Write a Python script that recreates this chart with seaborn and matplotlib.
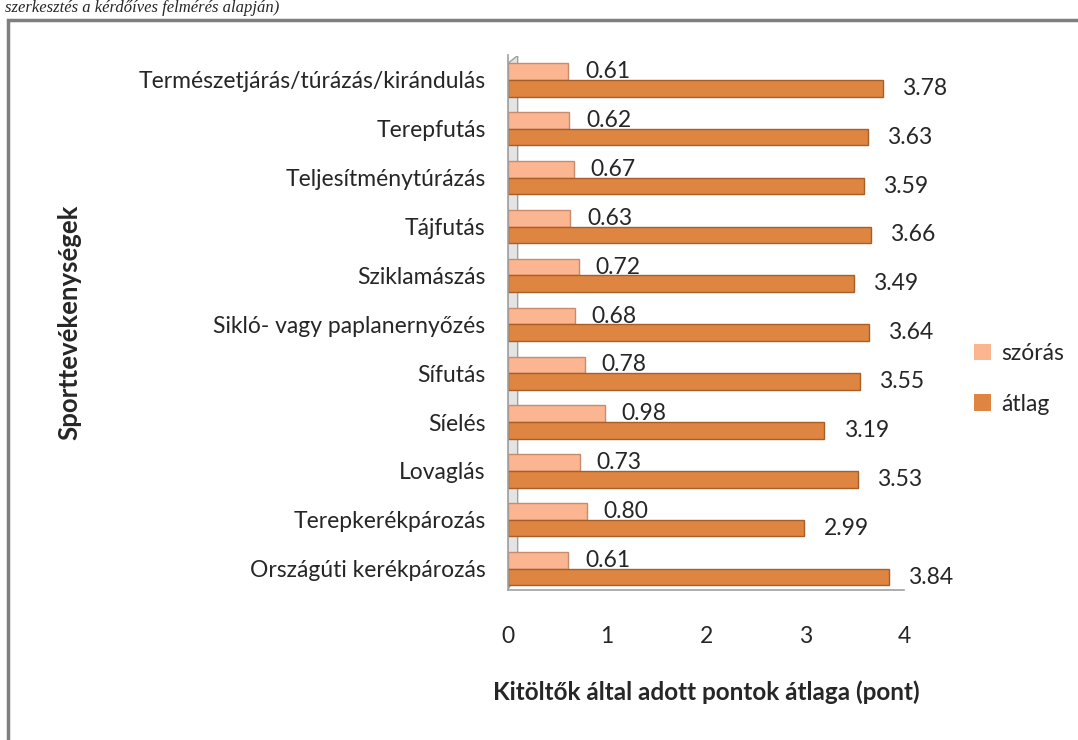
import pandas as pd
import matplotlib.pyplot as plt
import matplotlib.patches as mpatches
import seaborn as sns

# data (top to bottom)
categories = [
    "Természetjárás/túrázás/kirándulás",
    "Terepfutás",
    "Teljesítménytúrázás",
    "Tájfutás",
    "Sziklamászás",
    "Sikló- vagy paplanernyőzés",
    "Sífutás",
    "Síelés",
    "Lovaglás",
    "Terepkerékpározás",
    "Országúti kerékpározás",
]
szoras = [0.61, 0.62, 0.67, 0.63, 0.72, 0.68, 0.78, 0.98, 0.73, 0.80, 0.61]
atlag = [3.78, 3.63, 3.59, 3.66, 3.49, 3.64, 3.55, 3.19, 3.53, 2.99, 3.84]
series = ["szórás", "átlag"]
colors = ["#FBB590", "#DE8542"]
edges = ["#C98B6C", "#A95E28"]

df = pd.DataFrame({
    "sport": categories * 2,
    "value": szoras + atlag,
    "series": [series[0]] * len(categories) + [series[1]] * len(categories),
})

sns.set_style("white")
plt.rcParams["font.family"] = ["Lato", "DejaVu Sans"]
fs = 16.5

fig = plt.figure(figsize=(10.78, 7.4), dpi=100)
ax = fig.add_axes([0.471, 0.203, 0.368, 0.722])

sns.barplot(data=df, y="sport", x="value", hue="series", hue_order=series,
            order=categories, palette=colors, width=0.68, ax=ax,
            saturation=1, legend=True)

# bar edges + labels
for i, cont in enumerate(ax.containers):
    for p in cont:
        p.set_edgecolor(edges[i])
        p.set_linewidth(1.0)
    ax.bar_label(cont, fmt="%.2f", padding=12 if i == 0 else 14, fontsize=fs)

ax.set_xlim(0, 4)
ax.set_ylim(len(categories) - 0.57, -0.5)
ax.set_xticks([0, 1, 2, 3, 4])
ax.set_xticklabels(["0", "1", "2", "3", "4"], fontsize=fs)
ax.tick_params(axis="x", length=8, width=1, color="#A0A0A0", direction="inout", pad=22)
ax.tick_params(axis="y", which="major", length=0, pad=16, labelsize=fs)
ax.set_yticks([k - 0.5 for k in range(len(categories))] + [len(categories) - 0.57], minor=True)
ax.tick_params(axis="y", which="minor", length=7, width=1, color="#A0A0A0")

for s in ["top", "right"]:
    ax.spines[s].set_visible(False)
for s in ["left", "bottom"]:
    ax.spines[s].set_color("#A0A0A0")
    ax.spines[s].set_linewidth(1.2)

# 3D side wall
wall = mpatches.Polygon([(0, 0), (0.025, 0.03), (0.025, 1.0), (0.0, 0.985)],
                        closed=True, transform=ax.transAxes,
                        facecolor="#E4E4E4", edgecolor="#A0A0A0", lw=1, zorder=0.5)
ax.add_patch(wall)

ax.set_ylabel("Sporttevékenységek", fontsize=18.5, fontweight="bold")
ax.yaxis.set_label_coords(-1.075, 0.5)
ax.set_xlabel("Kitöltők által adott pontok átlaga (pont)", fontsize=17.5, fontweight="bold", labelpad=24)

leg = ax.legend(loc="center left", bbox_to_anchor=(0.884, 0.488), bbox_transform=fig.transFigure,
                frameon=False, fontsize=fs, labelspacing=1.3, handlelength=0.75,
                handleheight=0.75, handletextpad=0.45)
for h in leg.legend_handles:
    h.set_edgecolor("none")

# frame and caption at the top
fig.patches.append(mpatches.Rectangle((8 / 1078, -0.05), 1.1, 1 - 20 / 740 + 0.05,
                                      transform=fig.transFigure, fill=False,
                                      edgecolor="#7F7F7F", lw=2.5, clip_on=False))
fig.text(5 / 1078, 1.0, "szerkesztés a kérdőíves felmérés alapján)", fontsize=12,
         style="italic", va="top", ha="left", family=["Liberation Serif"])

plt.savefig("out.png", dpi=100)
